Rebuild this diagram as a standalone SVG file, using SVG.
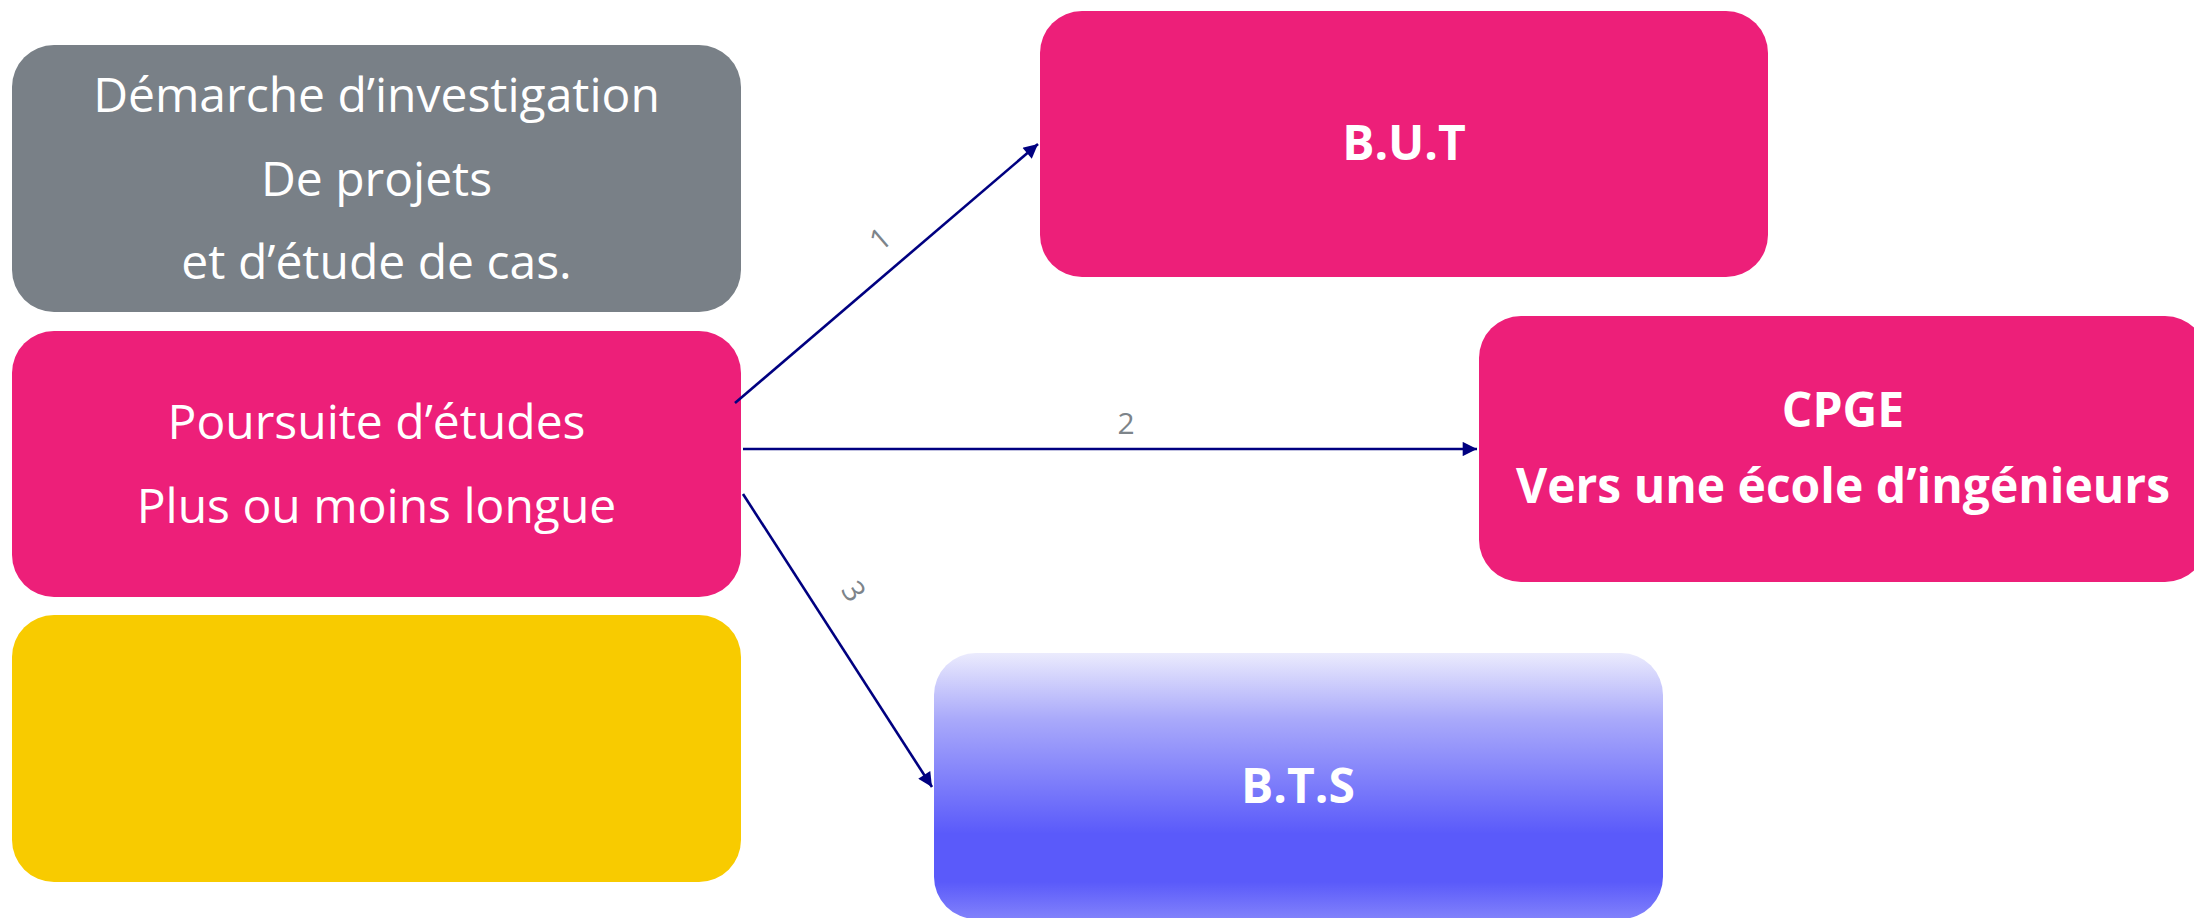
<svg xmlns="http://www.w3.org/2000/svg" width="2194" height="918" viewBox="0 0 2194 918">
  <style>
    .lt { font-family: "Open Sans", "Noto Sans", "Liberation Sans", sans-serif; font-size: 48px; fill: #ffffff; text-anchor: middle; }
    .bd { font-family: "Open Sans", "Noto Sans", "Liberation Sans", sans-serif; font-size: 48px; font-weight: bold; fill: #ffffff; text-anchor: middle; }
    .lbl { font-family: "Open Sans", "Noto Sans", "Liberation Sans", sans-serif; font-size: 30px; fill: #7d848a; text-anchor: middle; }
    .conn { stroke: #000080; stroke-width: 2.6; fill: none; marker-end: url(#ah); }
  </style>
  <defs>
    <marker id="ah" viewBox="0 0 10 10" refX="10" refY="5" markerWidth="6.5" markerHeight="5.5" markerUnits="strokeWidth" orient="auto">
      <path d="M0,0 L10,5 L0,10 z" fill="#000080"/>
    </marker>
    <linearGradient id="bts" x1="0" y1="0" x2="0" y2="1">
      <stop offset="0" stop-color="#ebebfd"/>
      <stop offset="0.25" stop-color="#a9a9fa"/>
      <stop offset="0.68" stop-color="#5a5afa"/>
      <stop offset="0.86" stop-color="#5a5afa"/>
      <stop offset="1" stop-color="#8282fb"/>
    </linearGradient>
  </defs>
  <rect width="2194" height="918" fill="#ffffff"/>

  <g id="demarche">
    <rect x="12" y="45" width="729" height="267" rx="42" ry="42" fill="#798087"/>
    <text class="lt" x="376.5" y="112">Démarche d’investigation</text>
    <text class="lt" x="376.5" y="196">De projets</text>
    <text class="lt" x="376.5" y="279">et d’étude de cas.</text>
  </g>

  <g id="poursuite">
    <rect x="12" y="331" width="729" height="266" rx="42" ry="42" fill="#ed1f79"/>
    <text class="lt" x="376.5" y="439">Poursuite d’études</text>
    <text class="lt" x="376.5" y="523">Plus ou moins longue</text>
  </g>

  <g id="jaune">
    <rect x="12" y="615" width="729" height="267" rx="42" ry="42" fill="#f8cb00"/>
  </g>

  <g id="but">
    <rect x="1040" y="11" width="728" height="266" rx="42" ry="42" fill="#ed1f79"/>
    <text class="bd" x="1404" y="160">B.U.T</text>
  </g>

  <g id="cpge">
    <rect x="1479" y="316" width="728" height="266" rx="42" ry="42" fill="#ed1f79"/>
    <text class="bd" x="1843" y="427">CPGE</text>
    <text class="bd" x="1843" y="503">Vers une école d’ingénieurs</text>
  </g>

  <g id="bts-node">
    <rect x="934" y="653" width="729" height="266" rx="42" ry="42" fill="url(#bts)"/>
    <text class="bd" x="1298" y="803">B.T.S</text>
  </g>

  <g id="connectors">
    <line class="conn" x1="735" y1="403" x2="1038" y2="144"/>
    <line class="conn" x1="743" y1="449" x2="1477" y2="449"/>
    <line class="conn" x1="743" y1="494" x2="932" y2="787"/>
    <text class="lbl" transform="translate(887,247) rotate(-40.6)">1</text>
    <text class="lbl" x="1126" y="434">2</text>
    <text class="lbl" transform="translate(845,597) rotate(57.2)">3</text>
  </g>
</svg>
